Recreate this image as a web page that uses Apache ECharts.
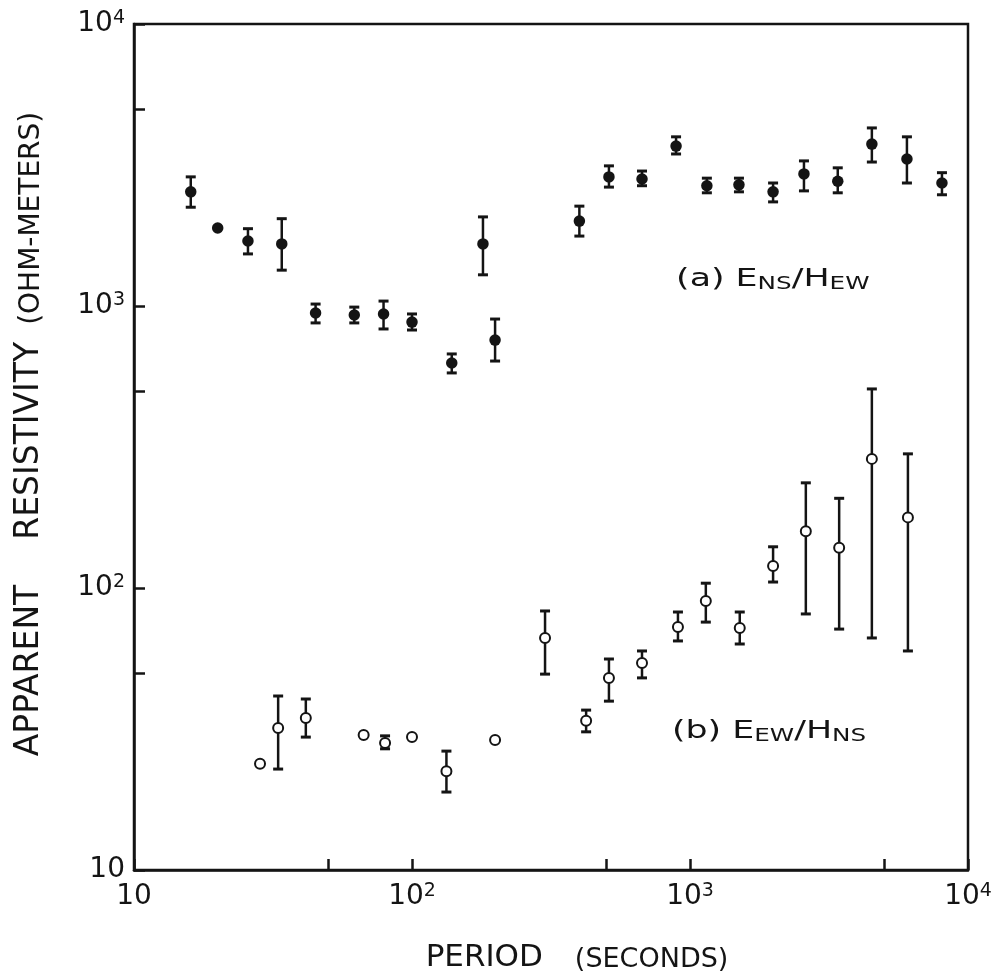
<!DOCTYPE html>
<html>
<head>
<meta charset="utf-8">
<script src="https://cdn.jsdelivr.net/npm/echarts@6/dist/echarts.min.js"></script>
<style>
  html, body { margin: 0; padding: 0; background: #ffffff; }
  #chart { width: 998px; height: 980px; }
</style>
</head>
<body>
<div id="chart"></div>
<script>
// ---- Data ----
// (a) E_NS/H_EW  (filled circles)
const periodA = [16, 20, 25.7, 34, 45, 62, 79, 100, 139, 180, 199, 400, 511, 672, 891, 1150, 1500, 1990, 2570, 3400, 4510, 6030, 8060];
const rhoA    = [2540, 1890, 1700, 1660, 944, 929, 937, 877, 628, 1660, 757, 2000, 2870, 2820, 3690, 2670, 2690, 2540, 2940, 2770, 3750, 3320, 2730];
const rhoALo  = [2240, null, 1530, 1340, 871, 871, 829, 822, 579, 1290, 638, 1770, 2640, 2670, 3460, 2520, 2540, 2340, 2560, 2520, 3240, 2730, 2480];
const rhoAHi  = [2870, null, 1880, 2040, 1016, 991, 1041, 937, 676, 2070, 899, 2260, 3140, 3010, 3980, 2840, 2840, 2730, 3270, 3090, 4280, 3980, 2970];

// (b) E_EW/H_NS  (open circles)
const periodB = [28.4, 33, 41.5, 67, 80, 100, 133, 199, 301, 423, 511, 672, 905, 1140, 1510, 1990, 2610, 3440, 4510, 6080];
const rhoB    = [23.8, 31.9, 34.6, 30.1, 28.2, 29.6, 22.4, 28.9, 66.5, 33.8, 48.0, 54.2, 72.7, 89.9, 72.1, 119.7, 159, 139, 287, 178];
const rhoBLo  = [null, 22.8, 29.6, null, 26.9, null, 18.9, null, 49.5, 30.9, 39.7, 48.0, 64.9, 75.7, 63.3, 105, 80.9, 71.5, 66.5, 59.8];
const rhoBHi  = [null, 41.4, 40.4, null, 29.9, null, 26.4, null, 82.9, 36.9, 56.0, 59.8, 82.2, 104, 82.2, 140, 236, 208, 508, 299];

// Axis ticks and labels
const xTickValues  = [10, 50, 100, 500, 1000, 5000, 10000];
const xLabelValues = [10, 100, 1000, 10000];
const yTickValues  = [10, 50, 100, 500, 1000, 5000, 10000];
const yLabelValues = [10, 100, 1000, 10000];

// Curve annotations (text and data-space anchor)
const labelA = { main1: '(a) E', sub1: 'NS', main2: '/H', sub2: 'EW', anchor: [891, 1236] };
const labelB = { main1: '(b) E', sub1: 'EW', main2: '/H', sub2: 'NS', anchor: [861, 30.8] };

// ---- Build ----
const INK = '#141414';
const FONT = '"DejaVu Sans", "Liberation Sans", sans-serif';

function pts(xs, ys) { return xs.map((x, i) => [x, ys[i]]); }
function bars(xs, lo, hi) {
  const out = [];
  xs.forEach((x, i) => { if (lo[i] != null && hi[i] != null) out.push([x, lo[i], hi[i]]); });
  return out;
}
function powLabel(v) {
  const e = Math.round(Math.log10(v));
  return e === 1 ? '{b|10}' : '{b|10}{sup|' + e + '}';
}
const labelRich = {
  b: { fontFamily: FONT, fontSize: 28, lineHeight: 30, color: INK },
  sup: { fontFamily: FONT, fontSize: 19, lineHeight: 14, verticalAlign: 'top', color: INK }
};

function errorBarItem(params, api) {
  const x = api.value(0);
  const pLo = api.coord([x, api.value(1)]);
  const pHi = api.coord([x, api.value(2)]);
  const w = 5;
  const st = { stroke: INK, lineWidth: 2.5 };
  const cap = { stroke: INK, lineWidth: 3 };
  return {
    type: 'group',
    children: [
      { type: 'line', shape: { x1: pLo[0], y1: pLo[1], x2: pHi[0], y2: pHi[1] }, style: st },
      { type: 'line', shape: { x1: pLo[0] - w, y1: pLo[1], x2: pLo[0] + w, y2: pLo[1] }, style: cap },
      { type: 'line', shape: { x1: pHi[0] - w, y1: pHi[1], x2: pHi[0] + w, y2: pHi[1] }, style: cap }
    ]
  };
}

const chart = echarts.init(document.getElementById('chart'), null, { renderer: 'canvas' });

const option = {
  animation: false,
  backgroundColor: '#ffffff',
  grid: {
    left: 134, right: 30, top: 24, bottom: 110,
    show: true, borderColor: INK, borderWidth: 2.5, backgroundColor: 'transparent'
  },
  xAxis: {
    type: 'log', logBase: 10, min: 10, max: 10000,
    name: '{p|PERIOD}{s|(SECONDS)}',
    nameLocation: 'middle', nameGap: 72,
    nameTextStyle: {
      padding: [0, 0, 0, 52],
      rich: {
        p: { fontFamily: FONT, fontSize: 31, color: INK, verticalAlign: 'bottom', padding: [0, 32, 0, 0] },
        s: { fontFamily: FONT, fontSize: 27, color: INK, verticalAlign: 'bottom' }
      }
    },
    splitLine: { show: false },
    minorTick: { show: false },
    axisLine: { show: true, lineStyle: { color: INK, width: 2.5 } },
    axisTick: { show: true, inside: true, length: 11, customValues: xTickValues, lineStyle: { color: INK, width: 2.5 } },
    axisLabel: { customValues: xLabelValues, formatter: powLabel, rich: labelRich, margin: 12, color: INK }
  },
  yAxis: {
    type: 'log', logBase: 10, min: 10, max: 10000,
    name: '{a|APPARENT}{a2|RESISTIVITY}{b|(OHM-METERS)}',
    nameLocation: 'middle', nameRotate: 90, nameGap: 88,
    nameTextStyle: {
      padding: [0, 0, 0, 26],
      rich: {
        a: { fontFamily: FONT, fontSize: 33, color: INK, verticalAlign: 'bottom', padding: [0, 45, 0, 0] },
        a2: { fontFamily: FONT, fontSize: 33, color: INK, verticalAlign: 'bottom', padding: [0, 17, 0, 0] },
        b: { fontFamily: FONT, fontSize: 28, color: INK, verticalAlign: 'bottom' }
      }
    },
    splitLine: { show: false },
    minorTick: { show: false },
    axisLine: { show: true, lineStyle: { color: INK, width: 2.5 } },
    axisTick: { show: true, inside: true, length: 11, customValues: yTickValues, lineStyle: { color: INK, width: 2.5 } },
    axisLabel: { customValues: yLabelValues, formatter: powLabel, rich: labelRich, margin: 9, color: INK }
  },
  series: [
    {
      name: 'a-err', type: 'custom', renderItem: errorBarItem, z: 2,
      encode: { x: 0, y: [1, 2] }, data: bars(periodA, rhoALo, rhoAHi), silent: true
    },
    {
      name: 'b-err', type: 'custom', renderItem: errorBarItem, z: 2,
      encode: { x: 0, y: [1, 2] }, data: bars(periodB, rhoBLo, rhoBHi), silent: true
    },
    {
      name: 'E_NS/H_EW', type: 'scatter', z: 4, symbol: 'circle', symbolSize: 11.5,
      itemStyle: { color: INK, opacity: 1 },
      data: pts(periodA, rhoA)
    },
    {
      name: 'E_EW/H_NS', type: 'scatter', z: 4, symbol: 'circle', symbolSize: 10,
      itemStyle: { color: '#ffffff', borderColor: INK, borderWidth: 2, opacity: 1 },
      data: pts(periodB, rhoB)
    }
  ]
};
chart.setOption(option);

function annotation(lbl) {
  const p = chart.convertToPixel({ gridIndex: 0 }, lbl.anchor);
  return {
    type: 'text', x: p[0], y: p[1], scaleX: 1.45, scaleY: 1, z: 10,
    style: {
      text: '{m|' + lbl.main1 + '}{s|' + lbl.sub1 + '}{m|' + lbl.main2 + '}{s|' + lbl.sub2 + '}',
      align: 'left', verticalAlign: 'middle', fill: INK,
      rich: {
        m: { fontFamily: FONT, fontSize: 24, lineHeight: 26, fill: INK },
        s: { fontFamily: FONT, fontSize: 17, lineHeight: 17, verticalAlign: 'bottom', fill: INK }
      }
    }
  };
}
chart.setOption({ graphic: [annotation(labelA), annotation(labelB)] });
</script>
</body>
</html>
